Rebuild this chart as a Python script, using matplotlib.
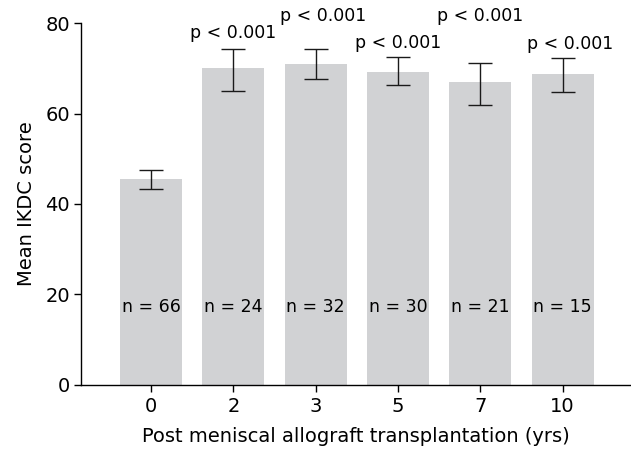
import matplotlib
matplotlib.use("Agg")
import matplotlib.pyplot as plt
import numpy as np

plt.rcParams['font.family'] = ['DejaVu Sans']

years = ["0", "2", "3", "5", "7", "10"]
means = [45.5, 70.1, 71.0, 69.3, 67.0, 68.8]
err_low = [43.2, 65.1, 67.6, 66.3, 61.9, 64.7]
err_high = [47.6, 74.4, 74.3, 72.6, 71.3, 72.4]
n_counts = [66, 24, 32, 30, 21, 15]
p_labels = ["", "p < 0.001", "p < 0.001", "p < 0.001", "p < 0.001", "p < 0.001"]

x = np.arange(len(years))
means_a = np.array(means)
yerr = np.vstack([means_a - np.array(err_low), np.array(err_high) - means_a])

fig = plt.figure(figsize=(6.31, 4.53), dpi=100)
ax = fig.add_axes([0.1284, 0.1512, 0.8716, 0.7974])

ax.bar(x, means, width=0.75, color="#d1d2d4", zorder=1)
ax.errorbar(x, means, yerr=yerr, fmt="none", ecolor="#1a1a1a",
            elinewidth=1.0, capsize=8.5, capthick=1.0, zorder=2)

# significance labels, staggered so neighbours do not collide
p_y = [0, 76.7, 80.4, 74.6, 80.4, 74.3]
p_dx = [0, 0, 0.09, 0, 0, 0.09]
for xi, lab, yy, dx in zip(x, p_labels, p_y, p_dx):
    if lab:
        ax.text(xi + dx, yy, lab, ha="center", va="baseline",
                fontsize=12.5, clip_on=False)

for xi, n in zip(x, n_counts):
    ax.text(xi, 17.2, f"n = {n}", ha="center", va="center", fontsize=12.5)

ax.set_xlim(-0.85, 5.83)
ax.set_ylim(0, 80)
ax.set_xticks(x)
ax.set_xticklabels(years, fontsize=14)
ax.set_yticks([0, 20, 40, 60, 80])
ax.tick_params(axis="y", labelsize=14, length=5, width=1, pad=3)
ax.tick_params(axis="x", length=5, width=1, pad=4)
ax.spines["top"].set_visible(False)
ax.spines["right"].set_visible(False)
ax.spines["left"].set_linewidth(1.0)
ax.spines["bottom"].set_linewidth(1.0)

ax.set_xlabel("Post meniscal allograft transplantation (yrs)", fontsize=14, labelpad=8)
ax.set_ylabel("Mean IKDC score", fontsize=14, labelpad=7)

fig.savefig("out.png", dpi=100)
